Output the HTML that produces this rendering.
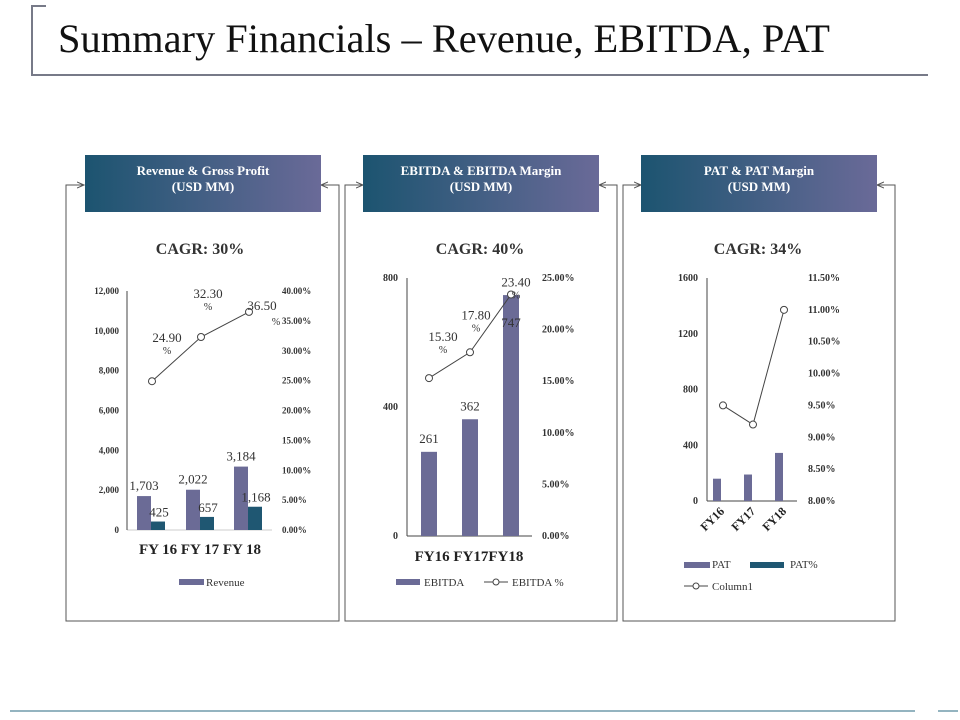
<!DOCTYPE html>
<html><head><meta charset="utf-8"><style>
html,body{margin:0;padding:0;background:#fff;}
svg{display:block;font-family:"Liberation Serif",serif;}
</style></head><body>
<svg id="s" width="960" height="720" viewBox="0 0 960 720" xmlns="http://www.w3.org/2000/svg">
<defs>
<linearGradient id="hg" x1="0" x2="1" y1="0" y2="0"><stop offset="0" stop-color="#1c5470"/><stop offset="1" stop-color="#6a6a98"/></linearGradient>
<marker id="ar" markerWidth="8" markerHeight="8" refX="7" refY="4" orient="auto"><path d="M0,1 L7,4 L0,7" fill="none" stroke="#555" stroke-width="1"/></marker>
</defs>
<path d="M46,6 L32,6 L32,75 L928,75" fill="none" stroke="#777a88" stroke-width="2"/>
<text x="58" y="52" font-size="40" textLength="772" lengthAdjust="spacingAndGlyphs" fill="#111">Summary Financials – Revenue, EBITDA, PAT</text>
<line x1="10" y1="711" x2="915" y2="711" stroke="#2a6a80" stroke-width="1"/>
<line x1="938" y1="711" x2="958" y2="711" stroke="#2a6a80" stroke-width="1"/>
<g id="root"></g>
</svg>
<script>
// ---- chart data ----
var cats1 = ["FY 16","FY 17","FY 18"];
var revenue = [1703,2022,3184];
var grossProfit = [425,657,1168];
var revPct = [24.9,32.3,36.5];
var ticks1L = [0,2000,4000,6000,8000,10000,12000];
var ticks1R = [0,5,10,15,20,25,30,35,40];

var cats2 = ["FY16","FY17","FY18"];
var ebitda = [261,362,747];
var ebitdaPct = [15.3,17.8,23.4];
var ticks2L = [0,400,800];
var ticks2R = [0,5,10,15,20,25];

var cats3 = ["FY16","FY17","FY18"];
var pat = [160,190,345];
var patPct = [9.5,9.2,11.0];
var ticks3L = [0,400,800,1200,1600];
var ticks3R = [8,8.5,9,9.5,10,10.5,11,11.5];

var NS="http://www.w3.org/2000/svg";
var root=document.getElementById('root');
function el(tag,attrs,txt,parent){var e=document.createElementNS(NS,tag);for(var k in attrs)e.setAttribute(k,attrs[k]);if(txt!==undefined)e.textContent=txt;(parent||root).appendChild(e);return e;}
function fmt(n){return n.toString().replace(/\B(?=(\d{3})+(?!\d))/g,",");}
var BAR="#6b6b96", BAR2="#1f5772";

var panels=[{x:66,w:273,hx:85,title:["Revenue & Gross Profit","(USD MM)"],cagr:"CAGR: 30%",cx:200},
{x:345,w:272,hx:363,title:["EBITDA & EBITDA Margin","(USD MM)"],cagr:"CAGR: 40%",cx:480},
{x:623,w:272,hx:641,title:["PAT & PAT Margin","(USD MM)"],cagr:"CAGR: 34%",cx:758}];
panels.forEach(function(p,i){
  var g=el('g',{});
  
  
  var b=el('path',{d:'M'+(p.x+18)+',185 L'+p.x+',185 L'+p.x+',621 L'+(p.x+p.w)+',621 L'+(p.x+p.w)+',185 L'+(p.x+p.w-18)+',185',fill:'none',stroke:'#555','stroke-width':1},undefined,g);
  
  
  var a1=el('line',{x1:p.x,y1:185,x2:p.x+18,y2:185,stroke:'#555','marker-end':'url(#ar)'},undefined,g);
  
  
  var a2=el('line',{x1:p.x+p.w,y1:185,x2:p.x+p.w-18,y2:185,stroke:'#555','marker-end':'url(#ar)'},undefined,g);
  
  
  var h=el('rect',{x:p.hx,y:155,width:236,height:57,fill:'url(#hg)'},undefined,g);
  
  
  var t1=el('text',{x:p.hx+118,y:175,'text-anchor':'middle','font-size':13,'font-weight':'bold',fill:'#fff'},p.title[0],g);
  
  
  var t2=el('text',{x:p.hx+118,y:191,'text-anchor':'middle','font-size':13,'font-weight':'bold',fill:'#fff'},p.title[1],g);
  
  
  var c=el('text',{x:p.cx,y:254,'text-anchor':'middle','font-size':16,'font-weight':'bold',fill:'#333'},p.cagr,g);
  
  
});

function axisY(min,max,y0,y1){return function(v){return y0-(v-min)/(max-min)*(y0-y1);};}

function drawAxes(ax,y0,y1,tl,tr,yl,yr,lx,rx,fmtL,fmtR,fs){
  var l=el('line',{x1:ax,y1:y1,x2:ax,y2:y0,stroke:'#444'});
  
  
  tl.forEach(function(v){var t=el('text',{x:lx,y:yl(v)+3,'text-anchor':'end','font-size':fs,'font-weight':'bold',fill:'#333'},fmtL(v));
    
    });
  tr.forEach(function(v){var t=el('text',{x:rx,y:yr(v)+3,'font-size':fs,'font-weight':'bold',fill:'#333'},fmtR(v));
    
    });
}
function drawLine(xs,vals,yr,name){
  var pts=vals.map(function(v,i){return xs[i]+','+yr(v);}).join(' ');
  var pl=el('polyline',{points:pts,fill:'none',stroke:'#444','stroke-width':1});
  
  
  vals.forEach(function(v,i){var c=el('circle',{cx:xs[i],cy:yr(v),r:3.5,fill:'#fff',stroke:'#444'});
    
    });
}

// ---- chart 1 ----
(function(){
  var y0=530,y1=291,yl=axisY(0,12000,y0,y1),yr=axisY(0,40,y0,y1);
  var base=el('line',{x1:127,y1:y0,x2:272,y2:y0,stroke:'#ccc'});
  
  
  drawAxes(127,y0,y1,ticks1L,ticks1R,yl,yr,119,282,fmt,function(v){return v.toFixed(2)+'%';},9);
  var cx=[151,200,248];
  revenue.forEach(function(v,i){
    var r=el('rect',{x:cx[i]-14,y:yl(v),width:14,height:y0-yl(v),fill:BAR});
    
    
    var t=el('text',{x:cx[i]-7,y:yl(v)-6,'text-anchor':'middle','font-size':13,fill:'#333'},fmt(v));
    
    
  });
  grossProfit.forEach(function(v,i){
    var r=el('rect',{x:cx[i],y:yl(v),width:14,height:y0-yl(v),fill:BAR2});
    
    
    var t=el('text',{x:cx[i]+8,y:yl(v)-5,'text-anchor':'middle','font-size':13,fill:'#333'},fmt(grossProfit[i]));
    
    
  });
  drawLine(cx.map(function(x){return x+1;}),revPct,yr,'gross-margin-line');
  revPct.forEach(function(v,i){
    var x=[167,208,276][i],y=yr(v)-39;
    var t=el('text',{x:x,y:y,'text-anchor':'middle','font-size':13,fill:'#333'},v.toFixed(2));
    
    
    var t2=el('text',{x:x,y:y+12,'text-anchor':'middle','font-size':10,fill:'#333'},'%');
    if(i==2){t.setAttribute('x',262);t.setAttribute('y',yr(v)-2);t2.setAttribute('x',276);t2.setAttribute('y',yr(v)+13);}
    
    
  });
  var xl=el('text',{x:200,y:554,'text-anchor':'middle','font-size':15,'font-weight':'bold',fill:'#222'},cats1.join(' '));
  
  
  var ls=el('rect',{x:179,y:579,width:25,height:6,fill:BAR});
  
  
  var lt=el('text',{x:206,y:586,'font-size':11,fill:'#333'},'Revenue');
  
  
})();

// ---- chart 2 ----
(function(){
  var y0=536,y1=278,yl=axisY(0,800,y0,y1),yr=axisY(0,25,y0,y1);
  var base=el('line',{x1:407,y1:y0,x2:532,y2:y0,stroke:'#444'});
  
  
  drawAxes(407,y0,y1,ticks2L,ticks2R,yl,yr,398,542,function(v){return ''+v;},function(v){return v.toFixed(2)+'%';},10);
  var cx=[429,470,511];
  ebitda.forEach(function(v,i){
    var r=el('rect',{x:cx[i]-8,y:yl(v),width:16,height:y0-yl(v),fill:BAR});
    
    
    var t=el('text',{x:cx[i],y:i==2?yl(v)+32:yl(v)-9,'text-anchor':'middle','font-size':13,fill:'#333'},''+v);
    
    
  });
  drawLine(cx,ebitdaPct,yr,'ebitda-margin-line');
  ebitdaPct.forEach(function(v,i){
    var x=[443,476,516][i],y=[yr(v)-37,yr(v)-33,yr(v)-8][i];
    var t=el('text',{x:x,y:y,'text-anchor':'middle','font-size':13,fill:'#333'},v.toFixed(2));
    
    
    var t2=el('text',{x:x,y:y+12,'text-anchor':'middle','font-size':10,fill:'#333'},'%');
    
    
  });
  var xl=el('text',{x:469,y:561,'text-anchor':'middle','font-size':15,'font-weight':'bold',fill:'#222'},cats2[0]+' '+cats2[1]+cats2[2]);
  
  
  var ls=el('rect',{x:396,y:579,width:24,height:6,fill:BAR});
  
  
  var lt=el('text',{x:424,y:586,'font-size':11,fill:'#333'},'EBITDA');
  
  
  var ll=el('line',{x1:484,y1:582,x2:508,y2:582,stroke:'#444'});
  
  
  var lc=el('circle',{cx:496,cy:582,r:3,fill:'#fff',stroke:'#444'});
  
  
  var lt2=el('text',{x:512,y:586,'font-size':11,fill:'#333'},'EBITDA %');
  
  
})();

// ---- chart 3 ----
(function(){
  var y0=501,y1=278,yl=axisY(0,1600,y0,y1),yr=axisY(8,11.5,y0,y1);
  var base=el('line',{x1:707,y1:y0,x2:797,y2:y0,stroke:'#444'});
  
  
  drawAxes(707,y0,y1,ticks3L,ticks3R,yl,yr,698,808,function(v){return ''+v;},function(v){return v.toFixed(2)+'%';},10);
  var cx=[717,748,779];
  pat.forEach(function(v,i){
    var r=el('rect',{x:cx[i]-4,y:yl(v),width:8,height:y0-yl(v),fill:BAR});
    
    
  });
  drawLine([723,753,784],patPct,yr,'pat-margin-line');
  cats3.forEach(function(c,i){
    var t=el('text',{x:cx[i]+8,y:512,'text-anchor':'end','font-size':12,'font-weight':'bold',fill:'#222',transform:'rotate(-45 '+(cx[i]+8)+' 512)'},c);
    
    
  });
  var ls=el('rect',{x:684,y:562,width:26,height:6,fill:BAR});
  
  
  var lt=el('text',{x:712,y:568,'font-size':11,fill:'#333'},'PAT');
  
  
  var ls2=el('rect',{x:750,y:562,width:34,height:6,fill:BAR2});
  
  
  var lt2=el('text',{x:790,y:568,'font-size':11,fill:'#333'},'PAT%');
  
  
  var ll=el('line',{x1:684,y1:586,x2:708,y2:586,stroke:'#444'});
  
  
  var lc=el('circle',{cx:696,cy:586,r:3,fill:'#fff',stroke:'#444'});
  
  
  var lt3=el('text',{x:712,y:590,'font-size':11,fill:'#333'},'Column1');
  
  
})();
</script>
</body></html>
